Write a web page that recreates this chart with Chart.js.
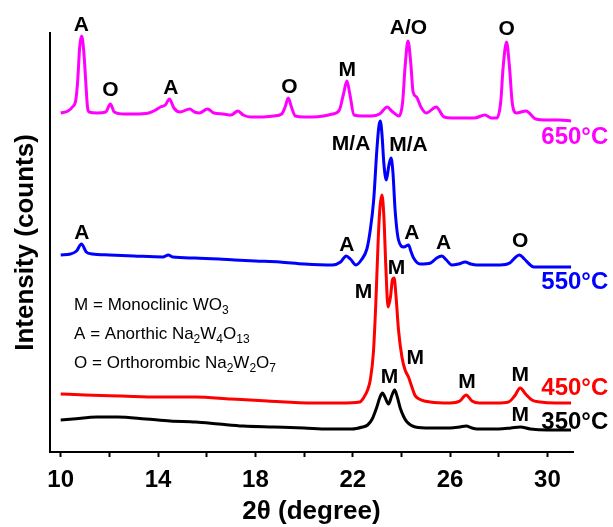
<!DOCTYPE html>
<html>
<head>
<meta charset="utf-8">
<script src="https://cdn.jsdelivr.net/npm/chart.js@4"></script>
<style>
  body { margin: 0; background: #fff; }
  #wrap { width: 613px; height: 527px; }
</style>
</head>
<body>
<div id="wrap"><canvas id="xrdChart" width="613" height="527"></canvas></div>
<script>
// 2theta / intensity (arbitrary units, curves already offset)
const theta650 = [10.00, 10.30, 10.48, 10.62, 10.70, 10.78, 10.86, 10.95, 11.03, 11.10, 11.17, 11.50, 11.85, 12.04, 12.20, 12.60, 13.00, 13.62, 13.90, 14.10, 14.30, 14.47, 14.65, 14.90, 15.30, 15.50, 15.70, 16.03, 16.30, 16.67, 17.00, 17.28, 17.50, 17.80, 18.30, 18.76, 19.08, 19.22, 19.35, 19.48, 19.64, 20.00, 20.36, 20.80, 21.17, 21.45, 21.62, 21.76, 21.88, 22.05, 22.40, 22.77, 23.10, 23.42, 23.60, 23.90, 24.05, 24.15, 24.27, 24.38, 24.48, 24.62, 24.80, 25.02, 25.43, 25.75, 26.10, 26.47, 27.00, 27.43, 27.70, 27.92, 28.08, 28.18, 28.32, 28.44, 28.55, 28.72, 29.12, 29.52, 30.00, 30.50, 30.97];
const counts650 = [339, 341, 345, 352, 372, 405, 416, 400, 370, 345, 340, 339, 340, 348, 340, 338, 338, 339, 342, 345, 347, 353, 344, 340, 343, 340, 339, 343, 339, 338, 337, 341, 337, 335, 335, 336, 338, 345, 354, 345, 336, 335, 335, 336, 338, 342, 358, 371, 358, 337, 336, 336, 338, 345, 341, 336, 350, 385, 411, 390, 360, 355, 345, 339, 345, 335, 334, 334, 334, 337, 334, 334, 350, 385, 410, 385, 350, 339, 341, 333, 332, 332, 331];

const theta550 = [10.00, 10.40, 10.65, 10.85, 11.05, 11.29, 12.00, 13.00, 14.20, 14.42, 14.60, 15.50, 16.50, 17.15, 18.00, 19.00, 20.00, 21.17, 21.50, 21.73, 21.90, 22.13, 22.35, 22.58, 22.72, 22.86, 22.99, 23.07, 23.13, 23.20, 23.28, 23.38, 23.48, 23.57, 23.65, 23.74, 23.88, 24.10, 24.29, 24.40, 24.50, 24.77, 25.20, 25.45, 25.66, 25.85, 26.07, 26.35, 26.62, 26.85, 27.10, 28.06, 28.45, 28.70, 28.85, 29.05, 29.25, 29.44, 30.00, 30.50, 30.97];
const counts550 = [197, 198, 201, 208, 200, 198, 197, 196, 195, 197, 195, 194, 193, 192, 191, 190, 188, 187, 190, 196, 193, 187, 192, 203, 222, 252, 302, 325, 331, 318, 288, 272, 286, 294, 280, 242, 212, 205, 207, 200, 194, 188, 189, 194, 196, 192, 187, 188, 190, 188, 187, 187, 189, 195, 197, 193, 188, 185, 185, 185, 185];

const theta450 = [10.00, 11.00, 12.50, 14.00, 15.54, 17.00, 18.50, 20.36, 21.50, 22.29, 22.44, 22.61, 22.72, 22.85, 22.95, 23.05, 23.12, 23.20, 23.28, 23.36, 23.45, 23.55, 23.63, 23.70, 23.78, 23.88, 24.02, 24.15, 24.29, 24.43, 24.55, 24.66, 25.18, 26.00, 26.40, 26.66, 26.90, 27.20, 27.92, 28.40, 28.65, 28.88, 29.10, 29.36, 29.70, 30.30, 30.97];
const counts450 = [58, 57, 56, 55, 55, 53, 51, 49, 49, 50, 54, 62, 72, 100, 150, 215, 245, 257, 235, 185, 145, 155, 172, 174, 155, 122, 95, 82, 75, 65, 57, 54, 50, 49, 51, 57, 51, 49, 49, 50, 56, 64, 58, 52, 50, 49, 49];

const theta350 = [10.00, 10.50, 11.50, 12.33, 13.50, 14.50, 15.54, 16.50, 17.50, 18.76, 20.00, 21.00, 21.97, 22.40, 22.61, 22.80, 22.99, 23.12, 23.22, 23.32, 23.47, 23.60, 23.72, 23.83, 23.95, 24.10, 24.23, 24.57, 25.18, 26.00, 26.40, 26.66, 26.90, 27.10, 28.00, 28.50, 28.88, 29.30, 30.00, 30.97];
const counts350 = [32, 33, 35, 35, 33, 31, 30, 28, 26, 25, 24, 23, 23, 25, 27, 33, 45, 55, 59, 55, 48, 56, 62, 55, 44, 35, 30, 25, 24, 24, 25, 26, 24, 23, 23, 24, 25, 23, 22, 22];

const tickValues = [10, 12, 14, 16, 18, 20, 22, 24, 26, 28, 30];
const tickLabels = [10, 14, 18, 22, 26, 30];

// phase labels: [2theta, height, text, colour]
const peakLabels = [
    [10.85, 427, 'A', '#000'], [12.04, 362, 'O', '#000'], [14.52, 364, 'A', '#000'],
    [19.40, 365, 'O', '#000'], [21.77, 382, 'M', '#000'], [24.29, 424, 'A/O', '#000'],
    [28.32, 423, 'O', '#000'],
    [21.93, 308, 'M/A', '#000'], [24.29, 307, 'M/A', '#000'], [10.87, 219, 'A', '#000'],
    [21.76, 207, 'A', '#000'], [24.43, 219, 'A', '#000'], [25.73, 209, 'A', '#000'],
    [28.88, 211, 'O', '#000'],
    [22.44, 160, 'M', '#000'], [23.80, 184, 'M', '#000'], [24.57, 94, 'M', '#000'],
    [26.69, 70, 'M', '#000'], [28.88, 77, 'M', '#000'],
    [23.51, 75, 'M', '#000'], [28.88, 37, 'M', '#000']
];
const tempLabels = [[32.5, 315, '650°C', '#ff00ff'], [32.5, 170, '550°C', '#0000ff'],
                    [32.5, 64, '450°C', '#ff0000'], [32.5, 30, '350°C', '#000']];
// key lines: [text, subscript] pieces
const keyLines = [
    [['M = Monoclinic WO', false], ['3', true]],
    [['A = Anorthic Na', false], ['2', true], ['W', false], ['4', true], ['O', false], ['13', true]],
    [['O = Orthorombic Na', false], ['2', true], ['W', false], ['2', true], ['O', false], ['7', true]]
];
const keyX = 10.55;
const keyY = [147, 118, 89];

const FONT = '"Liberation Sans", Arial, sans-serif';
Chart.defaults.font.family = FONT;

function toPoints(xs, ys) {
    return xs.map((x, i) => ({ x: x, y: ys[i] }));
}

const labelPlugin = {
    id: 'labels',
    afterDraw(chart) {
        const ctx = chart.ctx;
        const xs = chart.scales.x, ys = chart.scales.y;
        ctx.save();
        ctx.textBaseline = 'middle';
        ctx.textAlign = 'center';
        ctx.font = 'bold 21px ' + FONT;
        peakLabels.forEach(([x, y, t, c]) => {
            ctx.fillStyle = c;
            ctx.fillText(t, xs.getPixelForValue(x), ys.getPixelForValue(y));
        });
        ctx.textAlign = 'right';
        ctx.font = 'bold 24px ' + FONT;
        tempLabels.forEach(([x, y, t, c]) => {
            ctx.fillStyle = c;
            ctx.fillText(t, xs.getPixelForValue(x), ys.getPixelForValue(y));
        });
        // key text with subscripts
        ctx.textAlign = 'left';
        ctx.fillStyle = '#000';
        keyLines.forEach((parts, i) => {
            let px = xs.getPixelForValue(keyX);
            const py = ys.getPixelForValue(keyY[i]);
            parts.forEach(([t, sub]) => {
                ctx.font = sub ? '12px ' + FONT : '17px ' + FONT;
                ctx.fillText(t, px, sub ? py + 6 : py);
                px += ctx.measureText(t).width;
            });
        });
        ctx.restore();
    }
};

const lineStyle = { borderWidth: 3, pointRadius: 0, fill: false, cubicInterpolationMode: 'monotone' };

const ctx = document.getElementById('xrdChart').getContext('2d');
new Chart(ctx, {
    type: 'line',
    data: {
        datasets: [
            { label: '350°C', data: toPoints(theta350, counts350), borderColor: '#000000', ...lineStyle },
            { label: '450°C', data: toPoints(theta450, counts450), borderColor: '#ff0000', ...lineStyle },
            { label: '550°C', data: toPoints(theta550, counts550), borderColor: '#0000ff', ...lineStyle },
            { label: '650°C', data: toPoints(theta650, counts650), borderColor: '#ff00ff', ...lineStyle }
        ]
    },
    options: {
        responsive: false,
        animation: false,
        layout: { padding: { top: 33, right: 40, left: 0, bottom: 0 } },
        plugins: { legend: { display: false }, tooltip: { enabled: false } },
        scales: {
            x: {
                type: 'linear',
                min: 9.56,
                max: 31.05,
                afterBuildTicks: s => { s.ticks = tickValues.map(v => ({ value: v })); },
                afterFit: s => { s.height = 75; },
                grid: { display: true, drawOnChartArea: false, drawTicks: true, tickLength: 5, tickWidth: 2, tickColor: '#000' },
                border: { display: true, color: '#000', width: 2 },
                ticks: {
                    autoSkip: false, maxRotation: 0, padding: 9, color: '#000',
                    font: { size: 24, weight: 'bold' },
                    callback: v => tickLabels.includes(v) ? String(v) : ''
                },
                title: { display: true, text: '2θ (degree)', color: '#000', font: { size: 26, weight: 'bold' }, padding: { top: 0, bottom: 0 } }
            },
            y: {
                min: 0,
                max: 419,
                afterFit: s => { s.width = 50; },
                grid: { display: false },
                border: { display: true, color: '#000', width: 2 },
                ticks: { display: false },
                title: { display: true, text: 'Intensity (counts)', color: '#000', font: { size: 26, weight: 'bold' }, padding: { top: 10, bottom: 0 } }
            }
        }
    },
    plugins: [labelPlugin]
});
</script>
</body>
</html>
